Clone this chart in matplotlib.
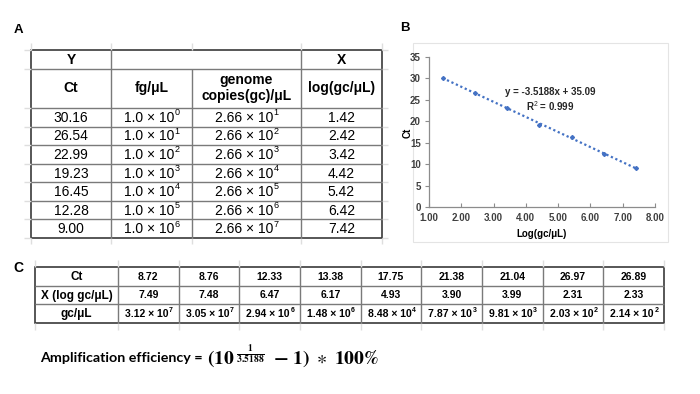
import numpy as np
import matplotlib
matplotlib.use('Agg')
import matplotlib.pyplot as plt

plt.rcParams['font.family'] = ['Liberation Sans', 'DejaVu Sans']
plt.rcParams['mathtext.fontset'] = 'custom'
plt.rcParams['mathtext.rm'] = 'Liberation Sans'
plt.rcParams['mathtext.it'] = 'Liberation Sans:italic'
plt.rcParams['mathtext.bf'] = 'Liberation Sans:bold'

# таблица A
ct_a = [30.16, 26.54, 22.99, 19.23, 16.45, 12.28, 9.00]
fg_exp = [0, 1, 2, 3, 4, 5, 6]
gc_exp = [1, 2, 3, 4, 5, 6, 7]
log_gc = [1.42, 2.42, 3.42, 4.42, 5.42, 6.42, 7.42]

# график B
slope = -3.5188
intercept = 35.09
r2 = 0.999

# таблица C
ct_c = [8.72, 8.76, 12.33, 13.38, 17.75, 21.38, 21.04, 26.97, 26.89]
x_c = [7.49, 7.48, 6.47, 6.17, 4.93, 3.90, 3.99, 2.31, 2.33]
gc_mant = [3.12, 3.05, 2.94, 1.48, 8.48, 7.87, 9.81, 2.03, 2.14]
gc_pow = [7, 7, 6, 6, 4, 3, 3, 2, 2]

W, H = 700, 394
fig = plt.figure(figsize=(W / 100, H / 100), dpi=100)
bg = fig.add_axes([0, 0, 1, 1])
bg.set_xlim(0, W)
bg.set_ylim(H, 0)
bg.axis('off')

dark = '#3a3a3a'
mid = '#7a7a7a'
faint = '#dedede'


def hline(y, x0, x1, c=mid, lw=1.0):
    bg.plot([x0, x1], [y, y], color=c, lw=lw, solid_capstyle='butt')


def vline(x, y0, y1, c=mid, lw=1.0):
    bg.plot([x, x], [y0, y1], color=c, lw=lw, solid_capstyle='butt')


def sci(x, y, base, p, fs, sfs, bold=False, fam=None, shift=2.5):
    # число вида "a × 10" + маленькая степень справа сверху
    kw = dict(fontweight='bold' if bold else 'normal')
    if fam:
        kw['family'] = fam
    t = bg.text(x - shift, y, base, fontsize=fs, ha='center', va='center', **kw)
    bg.annotate(str(p), xy=(1, 0.55), xycoords=t, xytext=(0.3, 0), textcoords='offset points',
                fontsize=sfs, ha='left', va='bottom', **kw)


# ---------- A ----------
bg.text(18, 30, 'A', fontsize=9.5, fontweight='bold', ha='center', va='center')
ax_cols = [31, 111, 192, 301, 382]
rows_a = [108 + i * (238 - 108) / 7 for i in range(8)]
# бледная сетка "экселя"
for x in ax_cols:
    vline(x, 43, 50, c=faint)
    vline(x, 238, 244, c=faint)
for y in [50, 69] + rows_a:
    hline(y, 24, 31, c=faint)
    hline(y, 382, 388, c=faint)
for y in [69] + rows_a[:-1]:
    hline(y, 31, 382)
vline(111, 50, 238)
vline(301, 50, 238)
vline(192, 69, 238)
bg.add_patch(plt.Rectangle((31, 50), 351, 188, fill=False, ec=dark, lw=1.2))

bg.text(71, 59.5, 'Y', fontsize=10, fontweight='bold', ha='center', va='center')
bg.text(341.5, 59.5, 'X', fontsize=10, fontweight='bold', ha='center', va='center')
bg.text(71, 88, 'Ct', fontsize=10, fontweight='bold', ha='center', va='center')
bg.text(151.5, 88, 'fg/μL', fontsize=10, fontweight='bold', ha='center', va='center')
bg.text(246.5, 88, 'genome\ncopies(gc)/μL', fontsize=10, fontweight='bold',
        ha='center', va='center', linespacing=1.15)
bg.text(341.5, 88, 'log(gc/μL)', fontsize=10, fontweight='bold', ha='center', va='center')
for i in range(len(ct_a)):
    yc = (rows_a[i] + rows_a[i + 1]) / 2 + 0.5
    bg.text(71, yc, '%.2f' % ct_a[i], fontsize=10, ha='center', va='center')
    sci(151.5, yc, '1.0 × 10', fg_exp[i], 10, 6.5)
    sci(246.5, yc, '2.66 × 10', gc_exp[i], 10, 6.5)
    bg.text(341.5, yc, '%.2f' % log_gc[i], fontsize=10, ha='center', va='center')

# ---------- B ----------
bg.text(405, 28, 'B', fontsize=9.5, fontweight='bold', ha='center', va='center')
bg.add_patch(plt.Rectangle((413, 43), 255, 199, fill=False, ec='#e4e4e4', lw=0.8))
ax = fig.add_axes([429 / W, 1 - 207 / H, 226 / W, 150 / H])
blue = '#4472C4'
xs = np.array([min(log_gc), max(log_gc)])
ax.plot(xs, slope * xs + intercept, ls=(0, (1, 1.2)), color=blue, lw=1.6)
ax.plot(log_gc, ct_a, 'D', color=blue, ms=2)
ax.set_xlim(1, 8)
ax.set_ylim(0, 35)
ax.set_xticks(np.arange(1, 9))
ax.set_yticks(np.arange(0, 36, 5))
ax.set_xticklabels(['%.2f' % v for v in np.arange(1, 9)])
for s in ['top', 'right']:
    ax.spines[s].set_visible(False)
for s in ['left', 'bottom']:
    ax.spines[s].set_color('#8c8c8c')
    ax.spines[s].set_linewidth(0.9)
ax.tick_params(axis='y', direction='out', length=3, color='#8c8c8c', pad=3)
ax.tick_params(axis='x', direction='in', length=3, color='#8c8c8c', pad=4)
for lab in ax.get_xticklabels() + ax.get_yticklabels():
    lab.set_fontsize(7)
    lab.set_fontweight('bold')
    lab.set_color('#404040')
ax.patch.set_alpha(0)
bg.text(408, 133, 'Ct', fontsize=7, fontweight='bold', rotation=90, ha='center', va='center')
bg.text(542, 234, 'Log(gc/μL)', fontsize=7, fontweight='bold', ha='center', va='center')
bg.text(550, 92, 'y = %.4fx + %.2f' % (slope, intercept), fontsize=7, fontweight='bold',
        ha='center', va='center', color='#262626')
bg.text(550, 106, 'R$^{2}$ = %.3f' % r2, fontsize=7, fontweight='bold',
        ha='center', va='center', color='#262626')

# ---------- C ----------
bg.text(18, 268, 'C', fontsize=10, fontweight='bold', ha='center', va='center')
c_cols = [35, 118] + [118 + (i + 1) * (664 - 118) / 9 for i in range(9)]
c_rows = [267, 286, 304, 323]
for x in c_cols:
    vline(x, 260, 267, c=faint)
    vline(x, 323, 330, c=faint)
for y in c_rows[1:-1]:
    hline(y, 35, 664)
for x in c_cols[1:-1]:
    vline(x, 267, 323)
bg.add_patch(plt.Rectangle((35, 267), 629, 56, fill=False, ec=dark, lw=1.2))
narrow = ['Liberation Sans Narrow', 'Liberation Sans', 'DejaVu Sans']
row_names = ['Ct', 'X (log gc/μL)', 'gc/μL']
for r in range(3):
    yc = (c_rows[r] + c_rows[r + 1]) / 2 + 0.5
    bg.text(76.5, yc, row_names[r], fontsize=8.5, fontweight='bold', ha='center',
            va='center', family=narrow)
for i in range(9):
    xc = (c_cols[i + 1] + c_cols[i + 2]) / 2
    y0 = (c_rows[0] + c_rows[1]) / 2 + 0.5
    y1 = (c_rows[1] + c_rows[2]) / 2 + 0.5
    y2 = (c_rows[2] + c_rows[3]) / 2 + 0.5
    bg.text(xc, y0, '%.2f' % ct_c[i], fontsize=7.5, fontweight='bold', ha='center',
            va='center', family=narrow)
    bg.text(xc, y1, '%.2f' % x_c[i], fontsize=7.5, fontweight='bold', ha='center',
            va='center', family=narrow)
    sci(xc, y2, '%.2f × 10' % gc_mant[i], gc_pow[i], 7.5, 5, bold=True, fam=narrow, shift=1.5)

# ---------- формула ----------
bg.text(40, 358, 'Amplification efficiency =', fontsize=10.3, fontweight='bold',
        ha='left', va='center', family=['Lato', 'Liberation Sans'])
bg.text(207, 357, r'$\mathbf{(10}^{\ \frac{\mathbf{1}}{\mathbf{3.5188}}\ }\ \mathbf{-\ 1)}\ \ast\ \mathbf{100\%}$',
        fontsize=14, ha='left', va='center', math_fontfamily='stix')

fig.savefig('out.png', dpi=100)
